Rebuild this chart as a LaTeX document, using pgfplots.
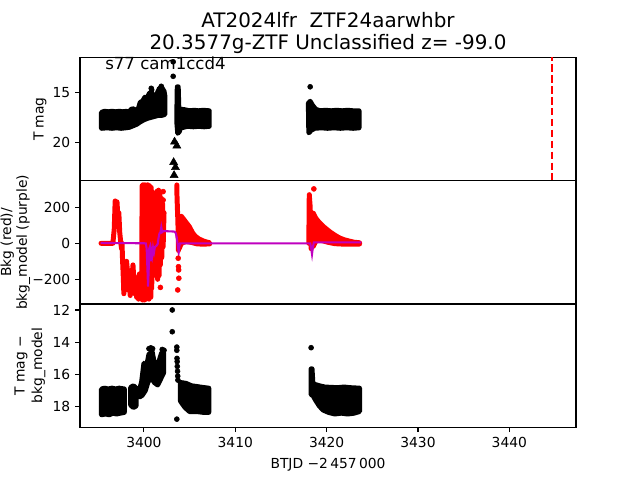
\documentclass[border=0pt]{standalone}
\usepackage{fontspec}
\setmainfont{DejaVu Sans}
\usepackage{pgfplots}
\pgfplotsset{compat=1.18}

\definecolor{mplm}{rgb}{0.75,0,0.75}

\pgfplotsset{
  panel/.style={
    width=4.96in, height=1.232in, scale only axis,
    xmin=3393.0, xmax=3447.3,
    xtick={3400,3410,3420,3430,3440},
    axis line style={line width=0.8pt},
    tick align=outside, major tick length=3.5pt,
    every tick/.style={black, line width=0.8pt},
    xtick pos=bottom, ytick pos=left,
    tick label style={font=\fontsize{10}{12}\selectfont},
    /pgf/number format/assume math mode=true,
    /pgf/number format/1000 sep={},
  },
  band/.style={black, fill=black, line width=3.6pt, line join=round},
  rband/.style={red, fill=red, line width=3.6pt, line join=round},
  rline/.style={red, line width=3.6pt, line join=round, line cap=round},
  dots/.style={only marks, mark=*, mark size=1.8pt},
}

\begin{document}
\begin{tikzpicture}
\path[use as bounding box] (0,0) rectangle (6.4in,4.8in);

% top panel: T mag
\begin{axis}[panel, at={(0.8in,2.992in)}, anchor=south west,
  xmajorticks=false, y dir=reverse, ymin=11.53, ymax=23.85, ytick={15,20}]
\addplot[band] coordinates {
(3395.35,17.0)(3395.7,16.9)(3396.1,16.95)(3396.5,16.9)(3396.9,16.95)(3397.3,16.9)
(3397.7,16.95)(3398.1,16.9)(3398.35,17.05)(3398.6,16.7)(3398.9,16.65)(3399.15,17.0)
(3399.4,16.6)(3399.6,16.0)(3399.85,15.9)(3400.1,15.5)(3400.35,15.6)(3400.6,15.1)
(3400.85,15.0)(3401.05,15.7)(3401.25,15.9)(3401.45,15.1)(3401.7,14.6)(3401.95,14.55)
(3402.2,14.9)(3402.3,15.4)(3402.3,17.2)(3402.0,17.3)(3401.6,17.3)(3401.2,17.4)
(3400.8,17.5)(3400.4,17.6)(3400.0,17.75)(3399.6,17.95)(3399.2,18.2)(3398.8,18.35)
(3398.4,18.5)(3398.0,18.55)(3397.5,18.6)(3397.0,18.55)(3396.5,18.6)(3396.0,18.55)
(3395.35,18.6)
} -- cycle;
\addplot[band] coordinates {
(3403.65,14.45)(3403.75,14.45)(3403.8,16.0)(3403.85,17.5)(3403.9,18.9)(3403.7,19.1)
(3403.6,18.0)(3403.62,16.0)
} -- cycle;
\addplot[band] coordinates {
(3404.1,16.7)(3404.5,16.75)(3405.0,16.85)(3405.5,16.8)(3406.0,16.85)(3406.5,16.8)
(3407.15,16.85)(3407.15,18.4)(3406.6,18.45)(3406.0,18.4)(3405.4,18.45)(3404.8,18.4)
(3404.3,18.5)(3404.0,18.6)
} -- cycle;
\addplot[band] coordinates {
(3418.0,16.1)(3418.2,15.9)(3418.45,16.3)(3418.8,16.7)(3419.3,16.85)(3419.9,16.8)
(3420.5,16.85)(3421.1,16.8)(3421.7,16.85)(3422.3,16.8)(3422.9,16.85)(3423.55,16.85)
(3423.55,18.55)(3422.9,18.6)(3422.2,18.55)(3421.5,18.6)(3420.8,18.55)(3420.1,18.6)
(3419.4,18.55)(3418.7,18.6)(3418.3,18.8)(3418.05,19.05)
} -- cycle;
\addplot[dots, black] coordinates {
(3400.8,14.6)(3400.85,14.75)(3401.9,14.4)(3401.95,14.6)(3403.2,11.95)(3403.2,13.4)(3418.2,14.45)
};
\addplot[only marks, mark=triangle*, mark size=3.3pt, black] coordinates {
(3403.35,19.95)(3403.6,20.35)(3403.25,22.0)(3403.45,22.5)(3403.3,23.3)
};
\addplot[red, line width=1.5pt, dash pattern=on 5.5pt off 2.4pt] coordinates {
(3444.7,10)(3444.7,25)
};
\end{axis}

% middle panel: background
\begin{axis}[panel, at={(0.8in,1.76in)}, anchor=south west,
  xmajorticks=false, ymin=-337, ymax=347,
  ytick={-200,0,200}, yticklabels={−200,0,200}]
\addplot[rline] coordinates {
(3395.3,0)(3396.6,0)(3396.75,80)(3396.85,235)(3396.95,180)(3397.05,230)(3397.15,140)
(3397.25,170)(3397.35,60)(3397.45,10)(3397.55,-30)(3397.6,0)
(3397.65,-80)(3397.75,-200)(3397.8,-280)(3397.9,-140)(3398.0,-230)(3398.1,-100)
(3398.2,-160)(3398.3,-260)(3398.4,-190)(3398.5,-290)(3398.6,-150)(3398.7,-230)
(3398.8,-120)(3398.9,-210)(3399.0,-280)(3399.1,-190)(3399.2,-300)(3399.3,-220)
(3399.4,-310)(3399.5,-170)(3399.6,-300)(3399.7,-250)(3399.75,-310)
(3399.8,320)(3399.85,-315)(3399.9,325)(3399.95,-310)(3400.0,320)(3400.05,-315)
(3400.1,325)(3400.15,-300)(3400.2,320)(3400.25,-310)(3400.3,315)(3400.35,-300)
(3400.4,325)(3400.45,-290)(3400.5,310)(3400.55,-310)(3400.6,320)(3400.65,-280)
(3400.7,300)(3400.75,-300)(3400.8,310)(3400.85,-250)
(3400.95,200)(3401.0,-180)(3401.1,280)(3401.2,-120)(3401.3,250)(3401.4,-60)
(3401.45,290)(3401.5,-200)(3401.6,295)(3401.65,-180)(3401.75,280)(3401.8,-120)
(3401.9,250)(3401.95,-80)(3402.05,220)(3402.1,-20)(3402.2,170)
};
\addplot[rline] coordinates {
(3403.6,324)(3403.62,260)(3403.66,200)(3403.72,120)(3403.75,40)(3403.78,-40)
};
\addplot[rband] coordinates {
(3403.85,140)(3404.1,150)(3404.4,130)(3404.7,110)(3405.0,90)(3405.3,60)(3405.6,40)
(3406.0,25)(3406.4,15)(3406.8,8)(3407.2,3)(3407.2,-3)(3406.5,-5)(3405.8,-3)
(3405.2,5)(3404.6,10)(3404.1,0)(3403.85,-30)
} -- cycle;
\addplot[rline] coordinates {
(3418.05,0)(3418.1,270)(3418.2,200)(3418.3,-30)(3418.35,20)
};
\addplot[rband] coordinates {
(3418.5,170)(3418.8,140)(3419.2,115)(3419.6,95)(3420.0,78)(3420.4,62)(3420.9,45)
(3421.4,30)(3421.9,20)(3422.5,12)(3423.0,6)(3423.6,3)(3423.6,-4)(3423.0,-5)
(3422.3,-5)(3421.6,-4)(3420.9,-2)(3420.2,5)(3419.5,15)(3418.9,20)(3418.5,-20)
} -- cycle;
\addplot[dots, red] coordinates {
(3401.8,-245)(3402.1,287)(3402.1,240)(3403.75,-83)(3403.78,-130)(3403.8,-148)
(3403.82,-194)(3403.7,-259)(3418.6,302)
};
\addplot[mplm, line width=1.5pt] coordinates {
(3395.25,2)(3400.2,0)(3400.3,-30)(3400.45,-240)(3400.52,-150)(3400.58,-30)
(3400.65,-20)(3400.72,-100)(3400.8,-40)(3400.9,-70)(3401.0,-25)(3401.1,-50)
(3401.2,-20)(3401.35,-15)(3401.5,-5)(3401.6,30)(3401.7,55)(3401.8,60)(3401.9,90)
(3402.0,62)(3402.15,68)(3403.35,65)(3403.5,55)(3403.6,30)(3403.7,-10)(3403.8,-50)
(3403.88,-15)(3403.95,0)(3418.2,0)(3418.3,-25)(3418.4,-60)(3418.5,-20)(3418.6,5)
(3423.8,5)
};
\end{axis}

% bottom panel: T mag - bkg_model
\begin{axis}[panel, at={(0.8in,0.528in)}, anchor=south west,
  y dir=reverse, ymin=11.63, ymax=19.27, ytick={12,14,16,18}]
\addplot[band] coordinates {
(3395.35,16.9)(3395.7,16.85)(3396.1,16.9)(3396.5,16.85)(3396.9,16.9)(3397.3,16.85)
(3397.85,16.9)(3397.85,18.35)(3397.4,18.4)(3397.0,18.45)(3396.6,18.4)(3396.2,18.5)
(3395.8,18.45)(3395.35,18.5)
} -- cycle;
\addplot[band] coordinates {
(3398.55,16.8)(3398.85,16.7)(3399.15,16.85)(3399.15,17.95)(3398.85,18.05)(3398.55,17.9)
} -- cycle;
\addplot[band] coordinates {
(3399.5,17.0)(3399.75,16.45)(3400.0,15.3)(3400.25,15.6)(3400.55,14.75)(3400.9,14.6)
(3401.15,15.35)(3401.45,15.55)(3401.75,15.0)(3401.95,14.65)(3402.15,14.65)
(3402.15,15.9)(3401.85,16.25)(3401.5,16.65)(3401.15,16.5)(3400.8,16.2)(3400.45,16.45)
(3400.15,17.0)(3399.8,17.3)(3399.5,17.4)
} -- cycle;
\addplot[band] coordinates {
(3404.0,16.5)(3404.6,16.55)(3405.2,16.7)(3405.8,16.75)(3406.4,16.8)(3407.1,16.85)
(3407.1,18.35)(3406.5,18.35)(3405.8,18.3)(3405.0,18.3)(3404.5,18.05)(3404.0,17.65)
} -- cycle;
\addplot[band] coordinates {
(3418.3,15.65)(3418.4,15.65)(3418.5,16.6)(3418.5,17.3)(3418.3,17.25)
} -- cycle;
\addplot[band] coordinates {
(3418.6,16.6)(3419.2,16.7)(3419.8,16.78)(3420.5,16.8)(3421.2,16.82)(3421.9,16.78)
(3422.6,16.82)(3423.6,16.85)(3423.6,18.3)(3423.0,18.4)(3422.3,18.45)(3421.6,18.4)
(3420.9,18.45)(3420.2,18.35)(3419.6,18.2)(3419.2,17.95)(3418.8,17.6)(3418.6,17.4)
} -- cycle;
\addplot[dots, black] coordinates {
(3400.55,14.4)(3400.75,14.35)(3400.95,14.4)(3402.0,14.45)(3402.2,14.5)
(3403.1,12.0)(3403.1,13.35)(3403.6,18.77)
(3403.6,14.3)(3403.6,14.5)(3403.62,15.0)(3403.64,15.2)(3403.65,15.5)(3403.68,15.8)
(3403.7,16.1)(3403.72,16.35)(3418.3,14.34)
};
\end{axis}

% titles and labels
\node[anchor=base, font=\fontsize{14.4}{17}\selectfont] at (3.28in,4.527in) {AT2024lfr~~ZTF24aarwhbr};
\node[anchor=base, font=\fontsize{14.4}{17}\selectfont] at (3.28in,4.30in) {20.3577g-ZTF Unclassified z= -99.0};
\node[anchor=base west, inner sep=0pt, font=\fontsize{12}{14}\selectfont] at (1.05in,4.105in) {s77 cam1ccd4};
\node[anchor=base, font=\fontsize{10}{12}\selectfont] at (3.28in,0.117in) {BTJD −2\,457\,000};
\node[rotate=90, inner sep=0pt, font=\fontsize{10}{12}\selectfont] at (0.40in,3.608in) {T mag};
\node[rotate=90, inner sep=0pt, font=\fontsize{10}{12}\selectfont] at (0.072in,2.376in) {Bkg (red)/};
\node[rotate=90, inner sep=0pt, font=\fontsize{10}{12}\selectfont] at (0.232in,2.376in) {bkg\_model (purple)};
\node[rotate=90, inner sep=0pt, font=\fontsize{10}{12}\selectfont] at (0.21in,1.144in) {T mag −};
\node[rotate=90, inner sep=0pt, font=\fontsize{10}{12}\selectfont] at (0.385in,1.144in) {bkg\_model};
\end{tikzpicture}
\end{document}
